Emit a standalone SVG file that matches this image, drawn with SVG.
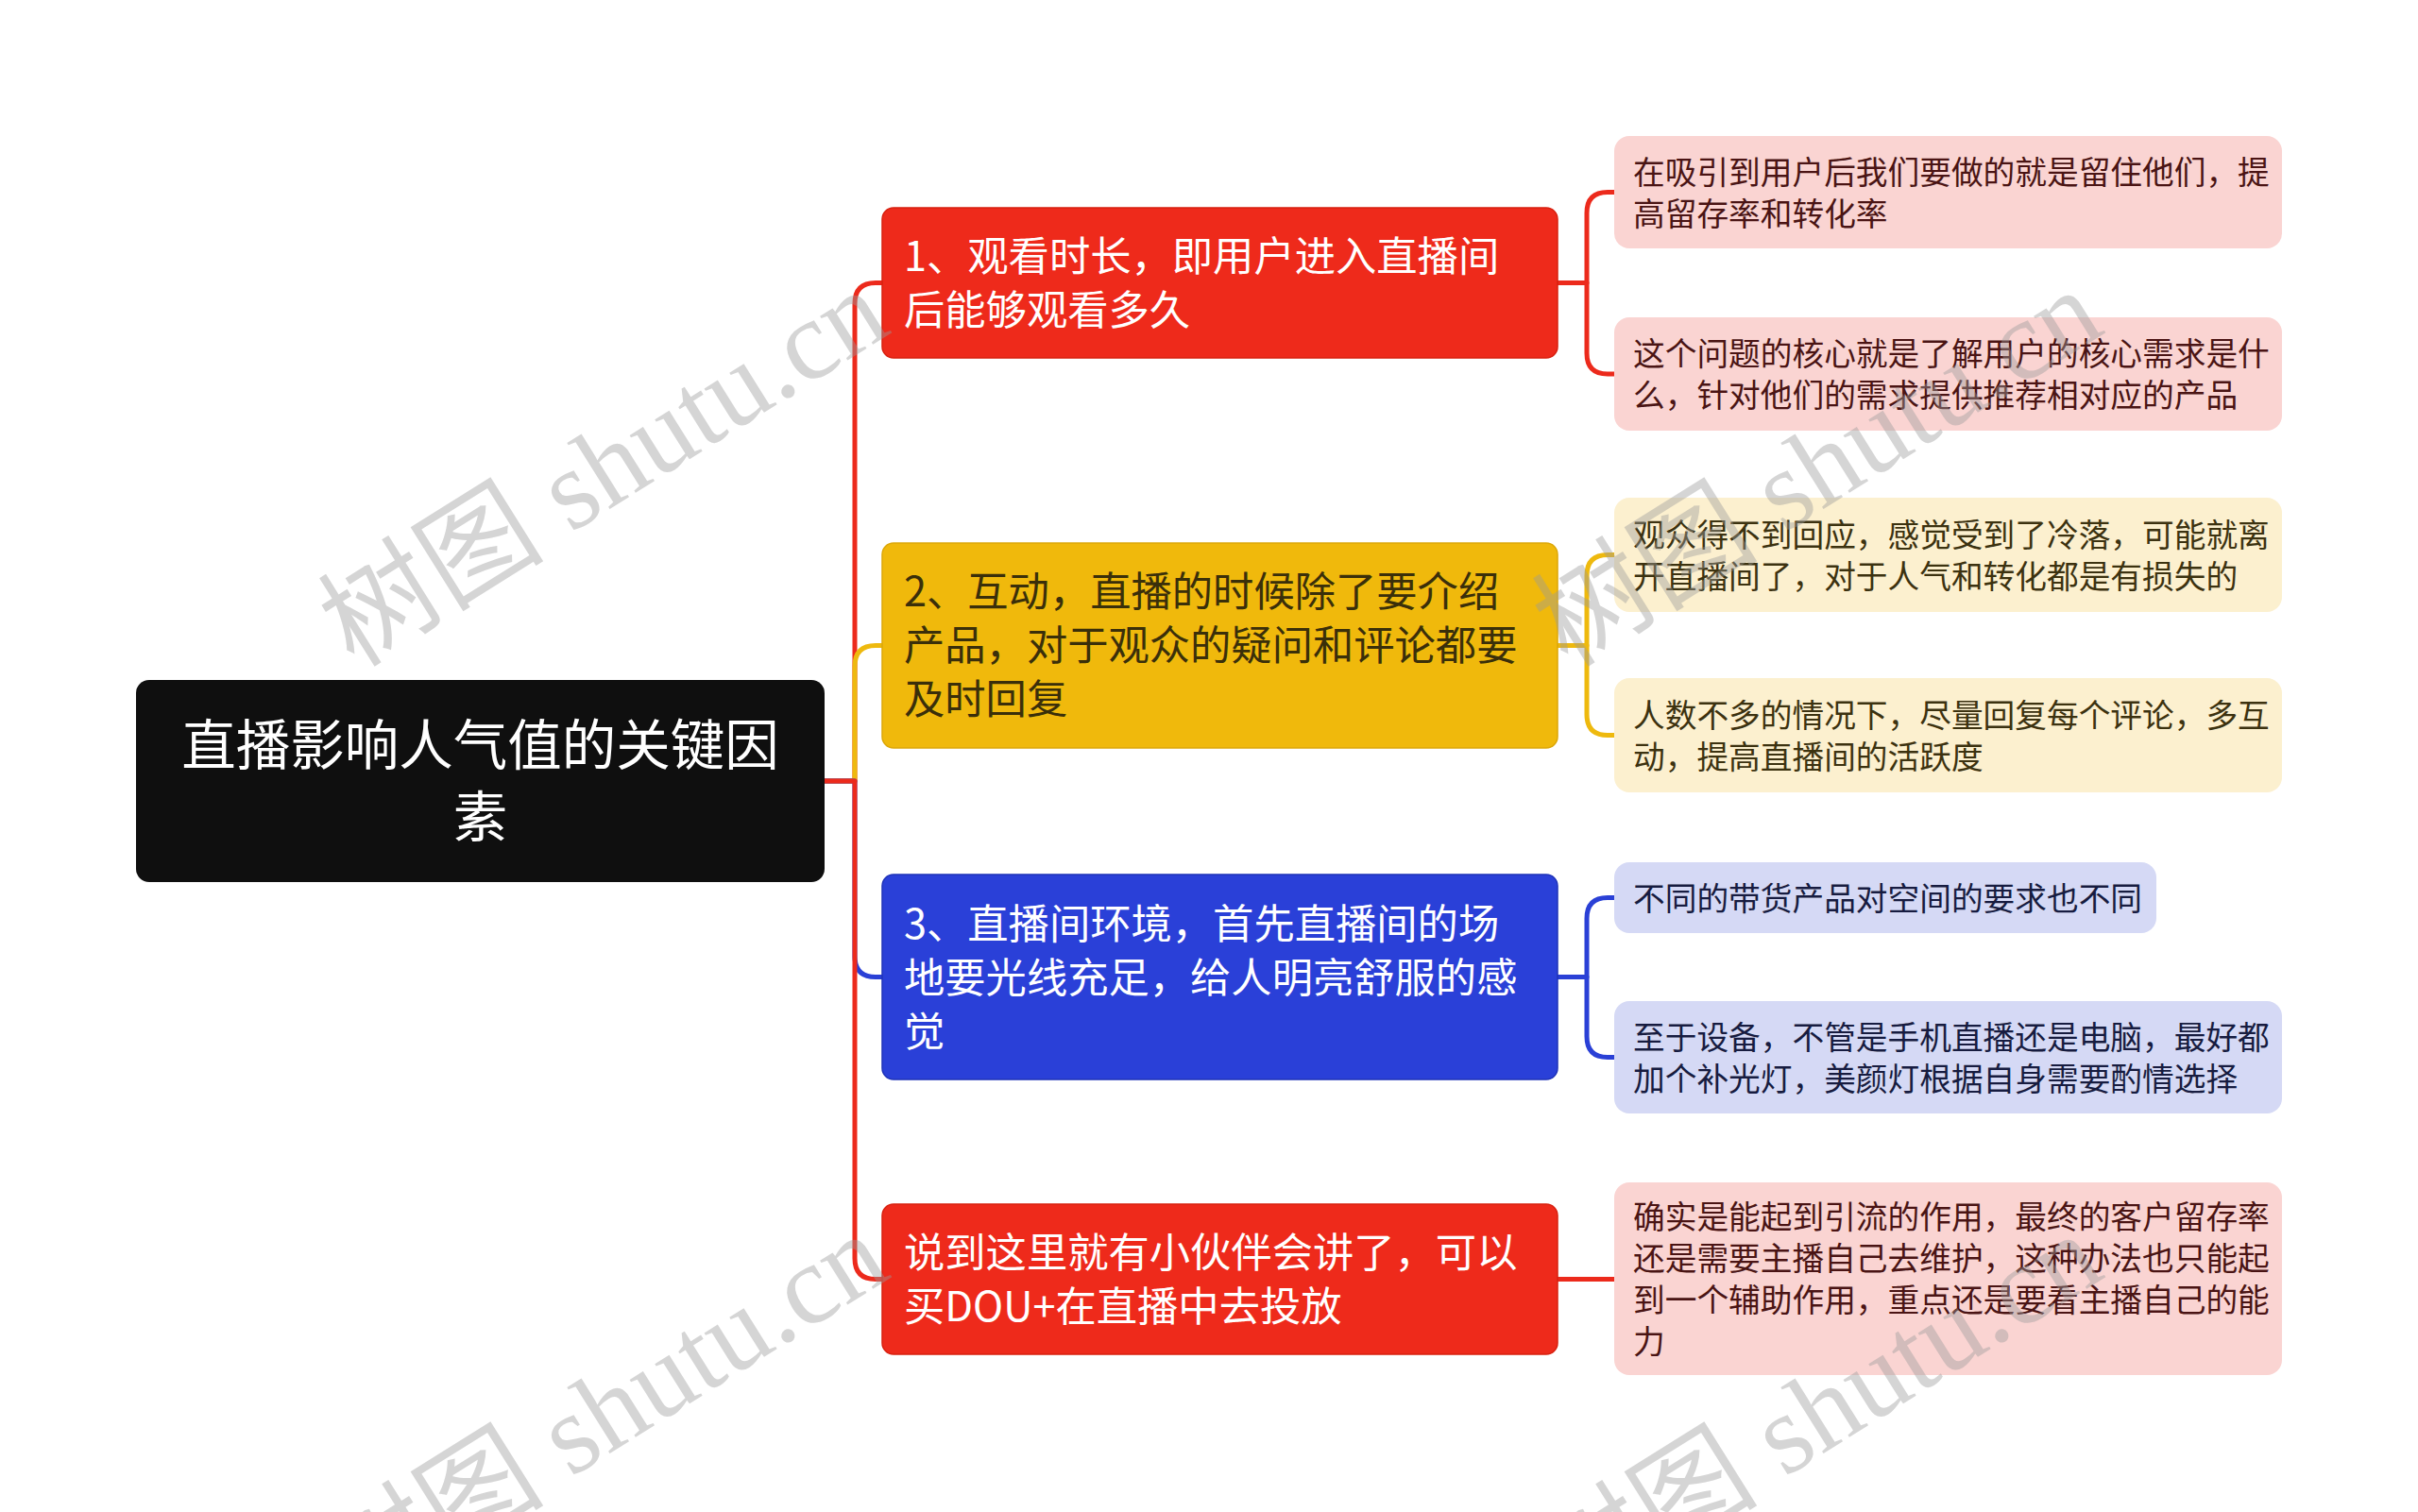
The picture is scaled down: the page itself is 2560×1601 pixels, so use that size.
<svg xmlns="http://www.w3.org/2000/svg" width="2560" height="1601" viewBox="0 0 2560 1601">
<style>
text{font-family:"Noto Sans CJK SC","Noto Sans",sans-serif;dominant-baseline:central}
.root{font-size:57.5px;fill:#ffffff;text-anchor:middle}
.br{font-size:43.3px}
.lf{font-size:33.7px}
.w{fill:#ffffff}
.ty{fill:#3a2f0a}
.tp{fill:#4a1414}
.tc{fill:#3c3210}
.tl{fill:#171c40}
.c{fill:none;stroke-width:5;stroke-linecap:round;stroke-linejoin:round}
.cr{stroke:#ec2a1c}.cy{stroke:#eeb90e}.cb{stroke:#2a40d6}
.wm{font-family:"Liberation Serif","Noto Sans CJK SC",serif;font-size:120px;fill:#9a9a9a;fill-opacity:0.42;dominant-baseline:alphabetic}
</style>
<rect width="2560" height="1601" fill="#ffffff"/>
<g id="connectors">
<path class="c cr" d="M873,827 H905 V321.5 Q905,299.5 927,299.5 H934"/>
<path class="c cy" d="M873,827 H905 V705.5 Q905,683.5 927,683.5 H934"/>
<path class="c cb" d="M873,827 H905 V1012.5 Q905,1034.5 927,1034.5 H934"/>
<path class="c cr" d="M873,827 H905 V1332.5 Q905,1354.5 927,1354.5 H934"/>
<path class="c cr" d="M1649,299.5 H1680 V225.5 Q1680,203.5 1702,203.5 H1709"/>
<path class="c cr" d="M1649,299.5 H1680 V374 Q1680,396 1702,396 H1709"/>
<path class="c cy" d="M1649,683.5 H1680 V609.5 Q1680,587.5 1702,587.5 H1709"/>
<path class="c cy" d="M1649,683.5 H1680 V756.5 Q1680,778.5 1702,778.5 H1709"/>
<path class="c cb" d="M1649,1034.5 H1680 V972.5 Q1680,950.5 1702,950.5 H1709"/>
<path class="c cb" d="M1649,1034.5 H1680 V1097.5 Q1680,1119.5 1702,1119.5 H1709"/>
<path class="c cr" d="M1649,1354.5 H1709"/>
</g>
<g id="root">
<rect x="144" y="720" width="729" height="214" rx="14" fill="#0f0f0f"/>
<text class="root" x="508.5" y="785">直播影响人气值的关键因</text>
<text class="root" x="508.5" y="861">素</text>
</g>
<g id="b1">
<rect x="934" y="220" width="715" height="159" rx="12" fill="#ee2a1b" stroke="#d8200f" stroke-width="1.5"/>
<text class="br w" x="957" y="268">1、观看时长，即用户进入直播间</text>
<text class="br w" x="957" y="325">后能够观看多久</text>
</g>
<g id="b2">
<rect x="934" y="575" width="715" height="217" rx="12" fill="#f0b90c" stroke="#dca708" stroke-width="1.5"/>
<text class="br ty" x="957" y="623">2、互动，直播的时候除了要介绍</text>
<text class="br ty" x="957" y="680">产品，对于观众的疑问和评论都要</text>
<text class="br ty" x="957" y="737">及时回复</text>
</g>
<g id="b3">
<rect x="934" y="926" width="715" height="217" rx="12" fill="#2a40d8" stroke="#1f33b8" stroke-width="1.5"/>
<text class="br w" x="957" y="974.5">3、直播间环境，首先直播间的场</text>
<text class="br w" x="957" y="1031.5">地要光线充足，给人明亮舒服的感</text>
<text class="br w" x="957" y="1088.5">觉</text>
</g>
<g id="b4">
<rect x="934" y="1275" width="715" height="159" rx="12" fill="#ee2a1b" stroke="#d8200f" stroke-width="1.5"/>
<text class="br w" x="957" y="1323">说到这里就有小伙伴会讲了，可以</text>
<text class="br w" x="957" y="1380">买DOU+在直播中去投放</text>
</g>
<g id="l1">
<rect x="1709" y="144" width="707" height="119" rx="16" fill="#fad4d2"/>
<text class="lf tp" x="1729" y="180">在吸引到用户后我们要做的就是留住他们，提</text>
<text class="lf tp" x="1729" y="224">高留存率和转化率</text>
</g>
<g id="l2">
<rect x="1709" y="336" width="707" height="120" rx="16" fill="#fad4d2"/>
<text class="lf tp" x="1729" y="372.5">这个问题的核心就是了解用户的核心需求是什</text>
<text class="lf tp" x="1729" y="416.5">么，针对他们的需求提供推荐相对应的产品</text>
</g>
<g id="l3">
<rect x="1709" y="527" width="707" height="121" rx="16" fill="#fcf0cf"/>
<text class="lf tc" x="1729" y="564">观众得不到回应，感觉受到了冷落，可能就离</text>
<text class="lf tc" x="1729" y="608">开直播间了，对于人气和转化都是有损失的</text>
</g>
<g id="l4">
<rect x="1709" y="718" width="707" height="121" rx="16" fill="#fcf0cf"/>
<text class="lf tc" x="1729" y="755">人数不多的情况下，尽量回复每个评论，多互</text>
<text class="lf tc" x="1729" y="799">动，提高直播间的活跃度</text>
</g>
<g id="l5">
<rect x="1709" y="913" width="574" height="75" rx="16" fill="#d5d9f5"/>
<text class="lf tl" x="1729" y="949">不同的带货产品对空间的要求也不同</text>
</g>
<g id="l6">
<rect x="1709" y="1060" width="707" height="119" rx="16" fill="#d5d9f5"/>
<text class="lf tl" x="1729" y="1096">至于设备，不管是手机直播还是电脑，最好都</text>
<text class="lf tl" x="1729" y="1140">加个补光灯，美颜灯根据自身需要酌情选择</text>
</g>
<g id="l7">
<rect x="1709" y="1252" width="707" height="204" rx="16" fill="#fad4d2"/>
<text class="lf tp" x="1729" y="1286.5">确实是能起到引流的作用，最终的客户留存率</text>
<text class="lf tp" x="1729" y="1330.5">还是需要主播自己去维护，这种办法也只能起</text>
<text class="lf tp" x="1729" y="1374.5">到一个辅助作用，重点还是要看主播自己的能</text>
<text class="lf tp" x="1729" y="1418.5">力</text>
</g>
<g id="watermarks">
<text class="wm" transform="translate(375,708) rotate(-32)">树图 shutu.cn</text>
<text class="wm" transform="translate(1660,708) rotate(-32)">树图 shutu.cn</text>
<text class="wm" transform="translate(375,1708) rotate(-32)">树图 shutu.cn</text>
<text class="wm" transform="translate(1660,1708) rotate(-32)">树图 shutu.cn</text>
</g>
</svg>
